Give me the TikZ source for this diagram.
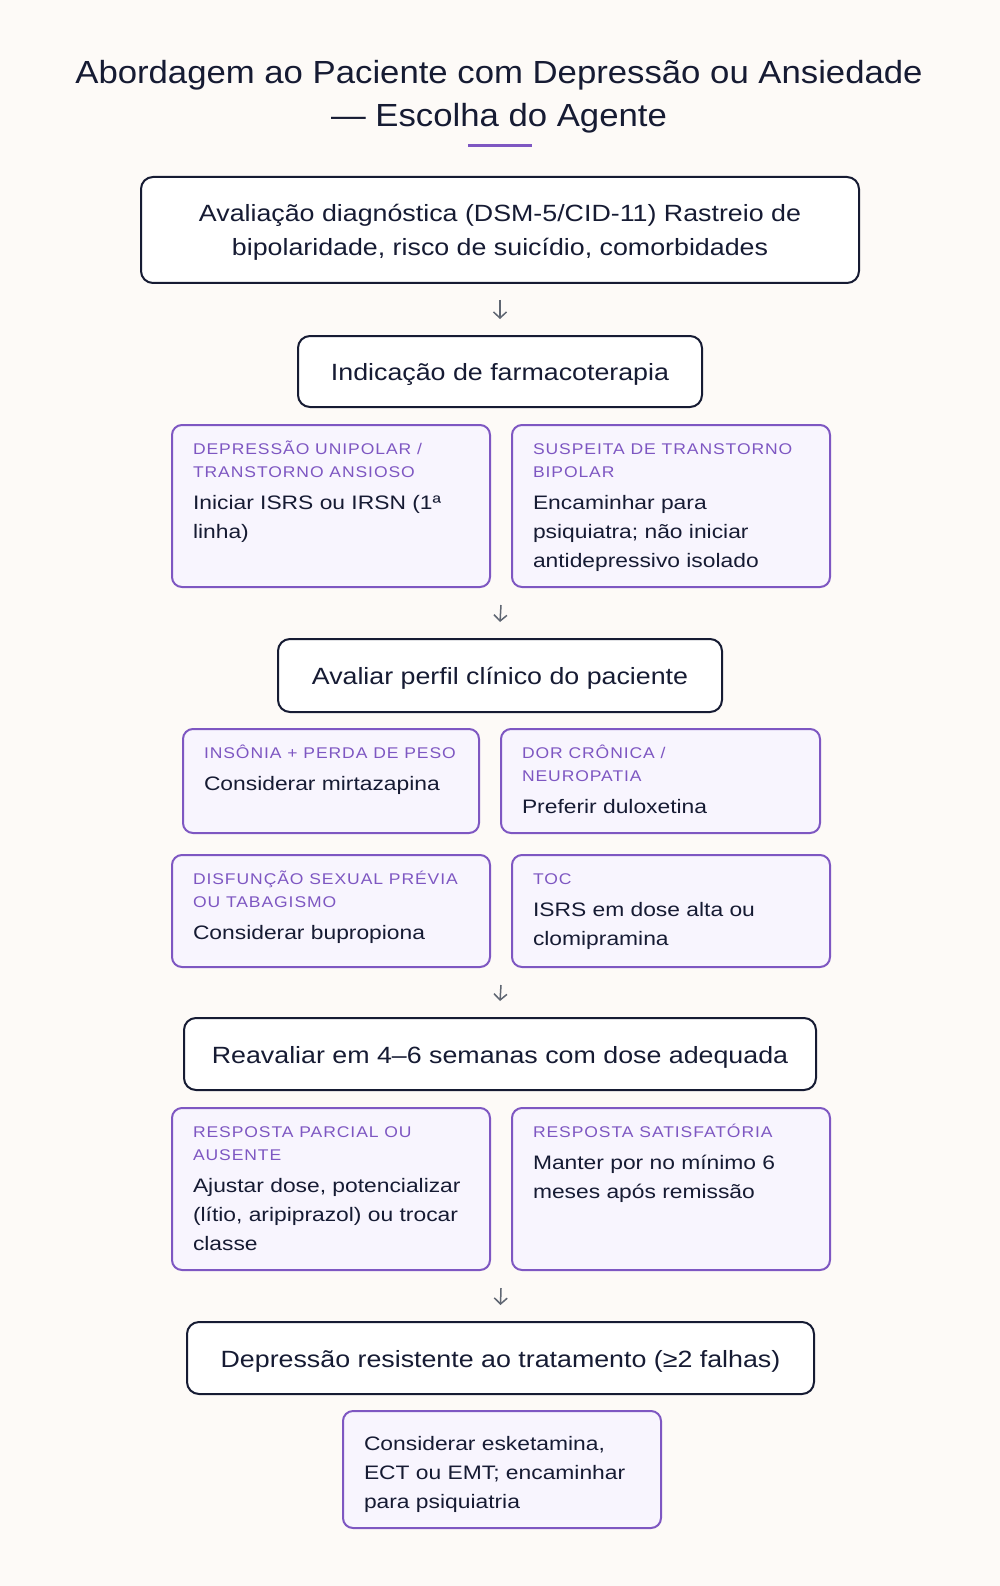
\documentclass[tikz,border=0pt]{standalone}
\usepackage{fontspec}
\setmainfont{Liberation Sans}
\newfontfamily\titlef[FakeStretch=1.085]{Liberation Sans}
\newfontfamily\mainf[FakeStretch=1.14]{Liberation Sans}
\newfontfamily\bodyf[FakeStretch=1.17]{Liberation Sans}
\newfontfamily\labf[FakeStretch=1.13,LetterSpace=6]{Liberation Sans}
\usetikzlibrary{arrows.meta,calc}
\definecolor{bg}{HTML}{FDFAF7}
\definecolor{ink}{HTML}{161B33}
\definecolor{purp}{HTML}{7E57C2}
\definecolor{pfill}{HTML}{F8F5FE}
\definecolor{arrg}{HTML}{5F6672}
\newcommand\lab[1]{{\labf\fontsize{15.5pt}{23pt}\selectfont\color{purp}#1\par}\vspace{2.5pt}}
\newcommand\bodytxt{\bodyf\fontsize{19.5pt}{29pt}\selectfont\color{ink}}
\newcommand\firstline{\rule{0pt}{17.5pt}}
\newcommand\ms{\rule[-6pt]{0pt}{30pt}}
\begin{document}
\begin{tikzpicture}[x=1pt,y=-1pt,
  mainbox/.style={draw=ink, line width=2pt, fill=white, rounded corners=12pt, align=center,
     text=ink, font=\mainf\fontsize{23.5pt}{34pt}\selectfont, inner sep=0pt},
  card/.style={draw=purp, line width=2pt, fill=pfill, rounded corners=10pt, anchor=north west,
     inner xsep=21pt, inner ysep=12pt, text=ink},
  arr/.style={draw=arrg, line width=1.5pt, -{Straight Barb[length=6pt,width=13pt]}}]
\fill[bg] (0,0) rectangle (1000,1586);
\useasboundingbox (0,0) rectangle (1000,1586);

\node[text=ink, font=\titlef\fontsize{32pt}{43pt}\selectfont, align=center] (title) at (499,96.5)
  {Abordagem ao Paciente com Depressão ou Ansiedade\\— Escolha do Agente};
\draw[purp, line width=3pt] (468,146) -- (532,146);

\node[mainbox, minimum width=718pt, minimum height=106pt] (b1) at (500,230)
  {\ms Avaliação diagnóstica (DSM-5/CID-11) Rastreio de\\\ms bipolaridade, risco de suicídio, comorbidades};
\node[mainbox, minimum width=404pt, minimum height=71pt] (b2) at (500,371.5)
  {\ms Indicação de farmacoterapia};

\node[card] (p1) at (171,424) {\parbox[t][138pt][t]{276pt}{\raggedright\firstline
  \lab{DEPRESSÃO UNIPOLAR /\\TRANSTORNO ANSIOSO}\bodytxt Iniciar ISRS ou IRSN (1ª\\linha)}};
\node[card] (p2) at (511,424) {\parbox[t][138pt][t]{276pt}{\raggedright\firstline
  \lab{SUSPEITA DE TRANSTORNO\\BIPOLAR}\bodytxt Encaminhar para\\psiquiatra; não iniciar\\antidepressivo isolado}};

\node[mainbox, minimum width=444pt, minimum height=73pt] (b3) at (500,675.5)
  {\ms Avaliar perfil clínico do paciente};

\node[card] (p3) at (182,728) {\parbox[t][80pt][t]{254pt}{\raggedright\firstline
  \lab{INSÔNIA + PERDA DE PESO}\bodytxt Considerar mirtazapina}};
\node[card] (p4) at (500,728) {\parbox[t][80pt][t]{277pt}{\raggedright\firstline
  \lab{DOR CRÔNICA /\\NEUROPATIA}\bodytxt Preferir duloxetina}};
\node[card] (p5) at (171,854) {\parbox[t][88pt][t]{276pt}{\raggedright\firstline
  \lab{DISFUNÇÃO SEXUAL PRÉVIA\\OU TABAGISMO}\bodytxt Considerar bupropiona}};
\node[card] (p6) at (511,854) {\parbox[t][88pt][t]{276pt}{\raggedright\firstline
  \lab{TOC}\bodytxt ISRS em dose alta ou\\clomipramina}};

\node[mainbox, minimum width=632pt, minimum height=72pt] (b4) at (500,1054)
  {\ms Reavaliar em 4–6 semanas com dose adequada};

\node[card] (p7) at (171,1107) {\parbox[t][138pt][t]{276pt}{\raggedright\firstline
  \lab{RESPOSTA PARCIAL OU\\AUSENTE}\bodytxt Ajustar dose, potencializar\\(lítio, aripiprazol) ou trocar\\classe}};
\node[card] (p8) at (511,1107) {\parbox[t][138pt][t]{276pt}{\raggedright\firstline
  \lab{RESPOSTA SATISFATÓRIA}\bodytxt Manter por no mínimo 6\\meses após remissão}};

\node[mainbox, minimum width=627pt, minimum height=72pt] (b5) at (500.5,1358)
  {\ms Depressão resistente ao tratamento (≥2 falhas)};

\node[card] (p9) at (342,1410) {\parbox[t][93pt][t]{276pt}{\raggedright\bodytxt\rule{0pt}{27pt}%
  Considerar esketamina,\\ECT ou EMT; encaminhar\\para psiquiatria}};

\coordinate (r1) at ($(p1.south)!0.5!(p2.south)$);
\coordinate (r2) at ($(p5.south)!0.5!(p6.south)$);
\coordinate (r3) at ($(p7.south)!0.5!(p8.south)$);
\draw[arr] ([yshift=-16pt]b1.south) -- ([yshift=16pt]b2.north);
\draw[arr] ([yshift=-17pt]r1) -- ([yshift=16pt]b3.north);
\draw[arr] ([yshift=-17pt]r2) -- ([yshift=16pt]b4.north);
\draw[arr] ([yshift=-17pt]r3) -- ([yshift=16pt]b5.north);
\end{tikzpicture}
\end{document}
